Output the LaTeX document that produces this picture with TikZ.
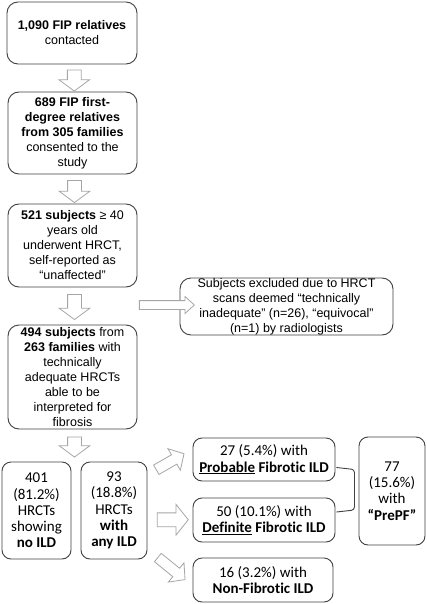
\documentclass[tikz,border=0pt]{standalone}
\usepackage{fontspec}
\setmainfont{Liberation Sans}
\newfontfamily\carl[Ligatures=NoCommon]{Carlito}
\usetikzlibrary{shapes.arrows,calc}
\definecolor{boxgray}{HTML}{404040}
\definecolor{arrgray}{HTML}{A6A6A6}
\tikzset{
  box/.style={draw=boxgray, line width=0.9pt, rounded corners=11pt, align=center,
    inner sep=0pt, font=\fontsize{12.5}{15}\selectfont},
  cbox/.style={box, rounded corners=9pt, font=\carl\fontsize{15}{16.2}\selectfont},
  barrow/.style={single arrow, draw=arrgray, fill=white, line width=0.8pt,
    inner xsep=0pt, single arrow head indent=0pt},
}
% name, position, rotation, length, shaft, head extend, tip angle
\newcommand{\blockarr}[7]{%
  \node[barrow, rotate=#3, minimum height=#4pt, inner ysep=#5pt,
    single arrow head extend=#6pt, single arrow tip angle=#7] (#1) at #2 {};}
\begin{document}
\begin{tikzpicture}[x=1pt,y=-1pt]
\useasboundingbox[fill=white] (0,0) rectangle (427,604);

\node[box, minimum width=130pt, minimum height=62pt] (b1) at (72,33)
  {\textbf{1,090 FIP relatives}\\contacted};
\node[box, minimum width=129pt, minimum height=82pt] (b2) at (72.5,133)
  {\textbf{689 FIP first-}\\\textbf{degree relatives}\\\textbf{from 305 families}\\consented to the\\study};
\node[box, minimum width=129pt, minimum height=83pt] (b3) at (72.5,245.5)
  {\textbf{521 subjects} ≥ 40\\years old\\underwent HRCT,\\self-reported as\\“unaffected”};
\node[box, minimum width=129pt, minimum height=104pt] (b4) at (72.5,377)
  {\textbf{494 subjects} from\\\textbf{263 families} with\\technically\\adequate HRCTs\\able to be\\interpreted for\\fibrosis};
\node[box, minimum width=213pt, minimum height=57pt] (ex) at (286.5,306.5)
  {Subjects excluded due to HRCT\\scans deemed “technically\\inadequate” (n=26), “equivocal”\\(n=1) by radiologists};

\node[cbox, minimum width=69pt, minimum height=97pt] (b5) at (36.5,510.5)
  {401\\(81.2\%)\\HRCTs\\showing\\\textbf{no ILD}};
\node[cbox, minimum width=66pt, minimum height=97pt] (b6) at (114,510.5)
  {93\\(18.8\%)\\HRCTs\\\textbf{with}\\\textbf{any ILD}};

\node[cbox, minimum width=142pt, minimum height=43pt] (r1) at (264,459.5)
  {27 (5.4\%) with\\\textbf{\underline{Probable} Fibrotic ILD}};
\node[cbox, minimum width=142pt, minimum height=44pt] (r2) at (264,520)
  {50 (10.1\%) with\\\textbf{\underline{Definite} Fibrotic ILD}};
\node[cbox, minimum width=140pt, minimum height=44pt] (r3) at (263,580)
  {16 (3.2\%) with\\\textbf{Non-Fibrotic ILD}};
\node[cbox, minimum width=66pt, minimum height=108pt] (pp) at (392,491)
  {77\\(15.6\%)\\with\\\textbf{“PrePF”}};

% bracket joining the two fibrotic boxes
\draw[boxgray, line width=0.9pt, rounded corners=3pt]
  ($(r1.east)+(1,8)$) -- ($(r1.east)+(19,10)$) -- ($(r2.east)+(19,-10)$) -- ($(r2.east)+(1,-8)$);

% block arrows
\blockarr{a1}{($(b1.south)!0.5!(b2.north)+(2,0)$)}{-90}{21}{6.5}{8.5}{107}
\blockarr{a2}{($(b2.south)!0.5!(b3.north)+(2,0)$)}{-90}{22}{6.5}{8.5}{107}
\blockarr{a3}{($(b3.south)!0.5!(b4.north)+(2,-1.5)$)}{-90}{25}{6.5}{8.5}{107}
\blockarr{a4}{($(b4.south)!0.5!(b5.north -| b4.south)+(2,-1)$)}{-90}{20}{6.5}{8.5}{107}
\blockarr{ax}{($(b3.east |- ex.west)+(0,-1.5)+(27,0)$)}{0}{55}{4}{4}{84}
\blockarr{d1}{(168,463)}{30}{32}{5}{7}{95}
\blockarr{d2}{($(b6.east)!0.5!(r2.west)+(0,4.5)$)}{0}{31}{6.5}{8.5}{103}
\blockarr{d3}{(169.5,567)}{-39}{35}{5}{7}{95}
\end{tikzpicture}
\end{document}
